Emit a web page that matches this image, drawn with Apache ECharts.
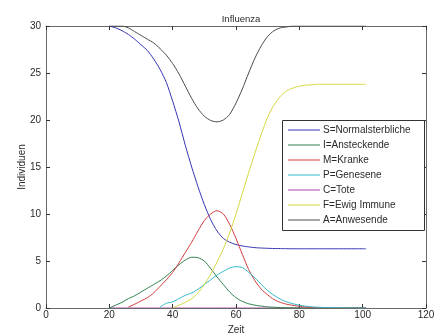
<!DOCTYPE html>
<html>
<head>
<meta charset="utf-8">
<script src="https://cdn.jsdelivr.net/npm/echarts@6/dist/echarts.min.js"></script>
<style>
  html, body { margin: 0; padding: 0; background: #fff; }
  #chart { width: 445px; height: 333px; }
</style>
</head>
<body>
<div id="chart"></div>
<script>
// Time grid (Zeit) shared by all compartments
const zeit = [20,22,24,26,28,30,32,34,36,38,40,42,44,46,48,50,52,54,56,58,60,
              62,64,66,68,70,72,74,76,78,80,82,84,86,88,90,92,94,96,98,100,101];

// S = Normalsterbliche
const sNormal = [30,29.8,29.5,29.1,28.6,28.0,27.4,26.5,25.4,24.0,22.0,19.8,17.3,15.0,12.9,11.0,9.4,8.2,7.4,7.0,6.75,
                 6.6,6.5,6.42,6.38,6.35,6.33,6.32,6.31,6.3,6.3,6.3,6.3,6.3,6.3,6.3,6.3,6.3,6.3,6.3,6.3,6.3];
// I = Ansteckende
const iAnst = [0,0.3,0.6,1.0,1.3,1.7,2.1,2.5,2.9,3.4,4.0,4.6,5.1,5.4,5.35,5.0,4.2,3.3,2.5,1.7,1.1,
               0.7,0.45,0.3,0.2,0.12,0.08,0.05,0.03,0.02,0.01,0,0,0,0,0,0,0,0,0,0,0];
// M = Kranke
const mKrank = [null,null,null,0.1,0.4,0.75,1.1,1.6,2.3,3.0,3.8,4.8,5.9,7.0,8.2,9.3,10.0,10.35,10.0,8.9,7.4,
                5.7,4.1,2.9,2.0,1.4,0.9,0.6,0.4,0.28,0.18,0.1,0.05,0.02,0.01,0,0,0,0,0,0,0];
// P = Genesene
const pGenes = [null,null,null,null,null,null,null,null,0.1,0.5,0.65,1.0,1.35,1.6,2.0,2.5,3.0,3.5,3.9,4.25,4.4,
                4.3,3.8,3.2,2.5,1.85,1.35,0.95,0.65,0.45,0.3,0.2,0.12,0.08,0.05,0.04,0.03,0.02,0.01,0.01,0,0];
// C = Tote
const cTote = [0,0,0,0,0,0,0,0,0,0,0,0,0,0,0,0,0,0,0,0,0,
               0,0,0,0,0,0,0,0,0,0,0,0,0,0,0,0,0,0,0,0,0];
// F = Ewig Immune
const fImmun = [null,null,null,null,null,null,null,null,null,null,0,0.3,0.6,1.0,1.6,2.5,3.6,4.9,6.3,8.0,10.0,
                12.2,14.4,16.5,18.5,20.3,21.6,22.5,23.1,23.4,23.6,23.7,23.75,23.8,23.8,23.8,23.8,23.8,23.8,23.8,23.8,23.8];
// A = Anwesende
const aAnwes = [30,30,30,29.8,29.4,29.0,28.6,28.2,27.6,26.9,26.0,24.9,23.6,22.3,21.2,20.4,19.95,19.8,20.0,20.6,21.8,
                23.3,25.0,26.6,27.9,28.9,29.5,29.8,29.9,30,30,30,30,30,30,30,30,30,30,30,30,30];

const seriesNames = ['S=Normalsterbliche','I=Ansteckende','M=Kranke','P=Genesene','C=Tote','F=Ewig Immune','A=Anwesende'];
const seriesValues = [sNormal, iAnst, mKrank, pGenes, cTote, fImmun, aAnwes];
const seriesColors = ['#3434b4','#2e7f4c','#d03c3c','#2fb6c8','#b040b0','#d6d640','#4a4a4a'];

const xTicks = { min: 0, max: 120, interval: 20 };
const yTicks = { min: 0, max: 30, interval: 5 };

const axisGray = '#6a6a6a';
const labelColor = '#2a2a2a';
const font = 'Liberation Sans, Arial, sans-serif';

function boxAxis(extra) {
  return Object.assign({
    type: 'value',
    z: 1,
    nameMoveOverlap: false,
    axisLine: { show: true, onZero: false, lineStyle: { color: axisGray, width: 1 } },
    axisTick: { show: true, inside: true, length: 4, lineStyle: { color: '#333' } },
    splitLine: { show: false },
    axisLabel: { show: false }
  }, extra);
}

const chart = echarts.init(document.getElementById('chart'), null, { renderer: 'canvas' });
chart.setOption({
  backgroundColor: '#ffffff',
  animation: false,
  title: {
    text: 'Influenza',
    left: 236, top: 9, textAlign: 'center',
    textStyle: { fontSize: 9.5, fontWeight: 'normal', color: labelColor, fontFamily: font }
  },
  grid: { left: 46, top: 26, width: 380, height: 282, containLabel: false, outerBoundsMode: 'none' },
  xAxis: [
    boxAxis(Object.assign({}, xTicks, {
      position: 'bottom',
      name: 'Zeit', nameLocation: 'middle', nameGap: 17,
      nameTextStyle: { fontSize: 10, color: labelColor, fontFamily: font },
      axisLabel: { show: true, fontSize: 10, color: labelColor, margin: 2, fontFamily: font }
    })),
    boxAxis(Object.assign({}, xTicks, { position: 'top' }))
  ],
  yAxis: [
    boxAxis(Object.assign({}, yTicks, {
      position: 'left',
      name: 'Individuen', nameLocation: 'middle', nameGap: 19,
      nameTextStyle: { fontSize: 10, color: labelColor, fontFamily: font },
      axisLabel: { show: true, fontSize: 10, color: labelColor, margin: 5, fontFamily: font }
    })),
    boxAxis(Object.assign({}, yTicks, { position: 'right' }))
  ],
  legend: {
    orient: 'vertical',
    left: 288, top: 124,
    icon: 'rect',
    itemWidth: 32, itemHeight: 1, itemGap: 3,
    padding: 0,
    z: 20,
    textStyle: { fontSize: 10, lineHeight: 12, color: labelColor, fontFamily: font, padding: [0, 0, 0, -2] },
    data: seriesNames
  },
  graphic: [{
    type: 'rect', z: 15,
    shape: { x: 282.5, y: 120.5, width: 142, height: 110 },
    style: { fill: '#ffffff', stroke: '#333333', lineWidth: 1 }
  }],
  series: seriesNames.map((name, k) => ({
    name: name,
    type: 'line',
    xAxisIndex: 0, yAxisIndex: 0,
    symbol: 'none',
    smooth: 0.25,
    connectNulls: false,
    z: name === 'C=Tote' ? 0 : 2,
    lineStyle: { width: 1, color: seriesColors[k] },
    itemStyle: { color: seriesColors[k] },
    data: zeit.map((t, i) => [t, seriesValues[k][i]])
  }))
});
</script>
</body>
</html>
